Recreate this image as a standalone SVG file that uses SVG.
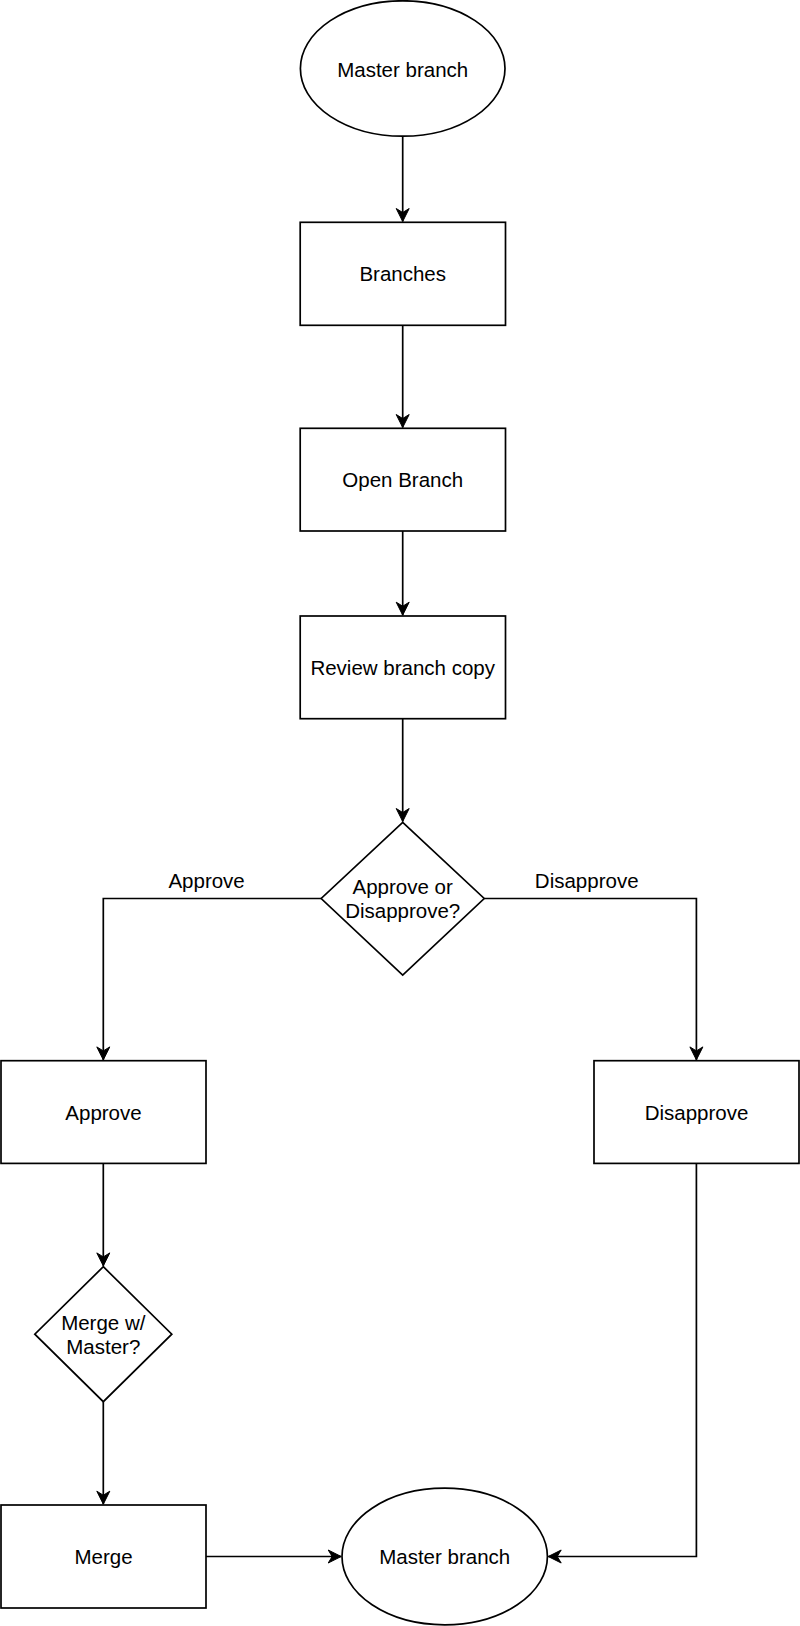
<svg xmlns="http://www.w3.org/2000/svg" width="800" height="1626" viewBox="0 0 800 1626">
<style>
.shape{fill:#fff;stroke:#000;stroke-width:1.7}
.edge{fill:none;stroke:#000;stroke-width:1.7}
text{font-family:"Liberation Sans",Arial,Helvetica,sans-serif;font-size:20.5px;fill:#000;text-anchor:middle}
</style>
<defs>
<marker id="arrow" markerUnits="userSpaceOnUse" markerWidth="16" markerHeight="16" viewBox="-14 -8 16 16" refX="0" refY="0" orient="auto">
<path d="M0,0 L-13,-6.5 L-9,0 L-13,6.5 Z" fill="#000" stroke="#000" stroke-width="1"/>
</marker>
</defs>
<rect width="800" height="1626" fill="#fff"/>
<g id="connectors">
<path class="edge" d="M402.7,137 L402.7,221.5" marker-end="url(#arrow)"/>
<path class="edge" d="M402.7,325.3 L402.7,427.5" marker-end="url(#arrow)"/>
<path class="edge" d="M402.7,531 L402.7,615.2" marker-end="url(#arrow)"/>
<path class="edge" d="M402.7,718.7 L402.7,821.5" marker-end="url(#arrow)"/>
<path class="edge" d="M321.2,898.5 L103.3,898.5 L103.3,1059.9" marker-end="url(#arrow)"/>
<path class="edge" d="M484.2,898.5 L696.4,898.5 L696.4,1059.9" marker-end="url(#arrow)"/>
<path class="edge" d="M103.3,1163.4 L103.3,1265.9" marker-end="url(#arrow)"/>
<path class="edge" d="M103.3,1401.7 L103.3,1504.2" marker-end="url(#arrow)"/>
<path class="edge" d="M206,1556.5 L341.2,1556.5" marker-end="url(#arrow)"/>
<path class="edge" d="M696.4,1163.4 L696.4,1556.5 L548.2,1556.5" marker-end="url(#arrow)"/>
<text x="206.6" y="888">Approve</text>
<text x="586.7" y="888">Disapprove</text>
</g>
<g id="master-top">
<ellipse class="shape" cx="402.7" cy="68.5" rx="102.3" ry="67.7"/>
<text x="402.7" y="76.5">Master branch</text>
</g>
<g id="branches">
<rect class="shape" x="300.2" y="222.3" width="205.3" height="103"/>
<text x="402.7" y="281.3">Branches</text>
</g>
<g id="open-branch">
<rect class="shape" x="300.2" y="428.3" width="205.3" height="102.7"/>
<text x="402.7" y="487.2">Open Branch</text>
</g>
<g id="review">
<rect class="shape" x="300.2" y="616" width="205.3" height="102.7"/>
<text x="402.7" y="675">Review branch copy</text>
</g>
<g id="decision">
<path class="shape" d="M402.7,822.3 L484.2,898.5 L402.7,975 L321.2,898.5 Z"/>
<text x="402.7" y="894">Approve or</text>
<text x="402.7" y="918">Disapprove?</text>
</g>
<g id="approve">
<rect class="shape" x="1" y="1060.7" width="205" height="102.7"/>
<text x="103.5" y="1119.6">Approve</text>
</g>
<g id="disapprove">
<rect class="shape" x="594" y="1060.7" width="205" height="102.7"/>
<text x="696.5" y="1119.6">Disapprove</text>
</g>
<g id="merge-decision">
<path class="shape" d="M103.3,1266.7 L171.8,1334.2 L103.3,1401.7 L34.8,1334.2 Z"/>
<text x="103.3" y="1329.7">Merge w/</text>
<text x="103.3" y="1353.7">Master?</text>
</g>
<g id="merge">
<rect class="shape" x="1" y="1505" width="205" height="103"/>
<text x="103.5" y="1564">Merge</text>
</g>
<g id="master-bottom">
<ellipse class="shape" cx="444.7" cy="1556.5" rx="102.7" ry="68.3"/>
<text x="444.7" y="1564">Master branch</text>
</g>
</svg>
